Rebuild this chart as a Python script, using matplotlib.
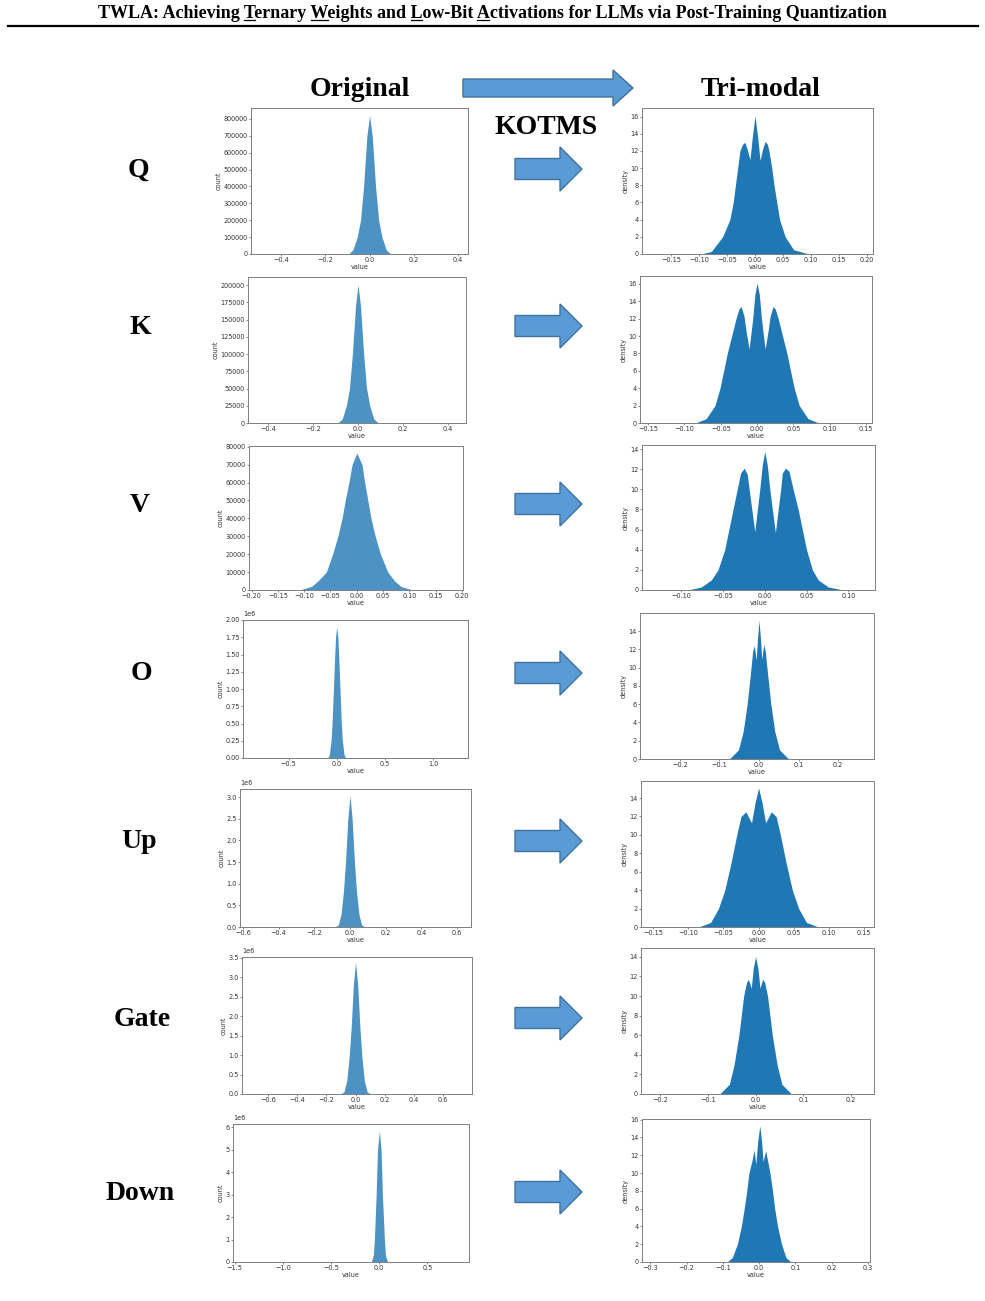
import numpy as np
import matplotlib
matplotlib.use("Agg")
import matplotlib.pyplot as plt
from matplotlib.patches import Polygon

W, H = 985, 1301

plt.rcParams['xtick.labelsize'] = 4.7
plt.rcParams['ytick.labelsize'] = 4.7

# row names
rows = ["Q", "K", "V", "O", "Up", "Gate", "Down"]

# ---- original weight histograms (count) : outline points
q_orig_x = [-0.095, -0.075, -0.056, -0.041, -0.027, -0.012, 0.0, 0.012, 0.027, 0.041, 0.056, 0.075, 0.095]
q_orig_y = [0, 25000, 100000, 200000, 400000, 700000, 820000, 700000, 400000, 200000, 100000, 25000, 0]

k_orig_x = [-0.09, -0.07, -0.052, -0.038, -0.025, -0.011, 0.0, 0.011, 0.025, 0.038, 0.052, 0.07, 0.09]
k_orig_y = [0, 6000, 25000, 50000, 100000, 170000, 200000, 170000, 100000, 50000, 25000, 6000, 0]

v_orig_x = [-0.109, -0.086, -0.074, -0.058, -0.046, -0.036, -0.028, -0.022, -0.015, -0.009, 0.0,
            0.010, 0.015, 0.021, 0.027, 0.035, 0.045, 0.059, 0.072, 0.084, 0.106]
v_orig_y = [0, 2000, 5000, 10000, 20000, 30000, 40000, 50000, 60000, 70000, 76500,
            70000, 60000, 50000, 40000, 30000, 20000, 10000, 5000, 2000, 0]

o_orig_x = [-0.093, -0.076, -0.059, -0.048, -0.034, -0.02, -0.012, 0.0, 0.012, 0.02, 0.034, 0.048, 0.059, 0.076, 0.093]
o_orig_y = [0, 0.05e6, 0.25e6, 0.5e6, 1.0e6, 1.5e6, 1.75e6, 1.9e6, 1.75e6, 1.5e6, 1.0e6, 0.5e6, 0.25e6, 0.05e6, 0]

up_orig_x = [-0.085, -0.065, -0.05, -0.037, -0.025, -0.012, 0.0, 0.012, 0.025, 0.037, 0.05, 0.065, 0.085]
up_orig_y = [0, 0.05e6, 0.3e6, 0.8e6, 1.5e6, 2.5e6, 3.03e6, 2.5e6, 1.5e6, 0.8e6, 0.3e6, 0.05e6, 0]

gate_orig_x = [-0.105, -0.08, -0.06, -0.045, -0.03, -0.015, 0.0, 0.015, 0.03, 0.045, 0.06, 0.08, 0.105]
gate_orig_y = [0, 0.05e6, 0.35e6, 0.9e6, 1.7e6, 2.8e6, 3.38e6, 2.8e6, 1.7e6, 0.9e6, 0.35e6, 0.05e6, 0]

down_orig_x = [-0.082, -0.06, -0.049, -0.031, -0.017, 0.003, 0.02, 0.034, 0.055, 0.065, 0.088]
down_orig_y = [0, 0.3e6, 1.0e6, 3.0e6, 5.0e6, 5.85e6, 5.0e6, 3.0e6, 1.0e6, 0.3e6, 0]

# ---- tri-modal histograms (density)
q_tri_x = [-0.096, -0.078, -0.058, -0.045, -0.039, -0.035, -0.031, -0.027, -0.022, -0.018, -0.014, -0.009,
           -0.005, 0.0, 0.005, 0.009, 0.014, 0.018, 0.022, 0.025, 0.030, 0.034, 0.039, 0.044, 0.054, 0.069, 0.096]
q_tri_y = [0, 0.3, 2, 4, 6, 8, 10, 12, 12.8, 13.0, 12.2, 11.0,
           13.5, 16.1, 13.5, 10.9, 12.3, 13.1, 12.8, 12, 10, 8, 6, 4, 2, 0.5, 0]

k_tri_x = [-0.085, -0.07, -0.058, -0.051, -0.041, -0.029, -0.025, -0.022, -0.018, -0.015, -0.011, -0.006,
           -0.003, 0.0, 0.003, 0.006, 0.011, 0.015, 0.018, 0.022, 0.025, 0.029, 0.041, 0.051, 0.058, 0.07, 0.085]
k_tri_y = [0, 0.5, 2, 4, 8, 12, 13.1, 13.4, 12.3, 10.5, 8.5, 12,
           14.8, 16.1, 14.8, 12, 8.5, 10.5, 12.3, 13.4, 13.1, 12, 8, 4, 2, 0.5, 0]

v_tri_x = [-0.092, -0.076, -0.064, -0.056, -0.048, -0.043, -0.038, -0.033, -0.029, -0.0247, -0.021, -0.0187,
           -0.012, -0.006, -0.003, 0.0, 0.003, 0.006, 0.0127, 0.019, 0.021, 0.0247, 0.029, 0.034, 0.040,
           0.045, 0.050, 0.057, 0.064, 0.076, 0.094]
v_tri_y = [0, 0.3, 1, 2, 4, 6, 8, 10, 11.6, 12.1, 11.5, 10,
           5.8, 10, 12.4, 13.75, 12.4, 10, 5.7, 10, 11.6, 12.1, 11.8, 10, 8,
           6, 4, 2, 1, 0.3, 0]

o_tri_x = [-0.075, -0.052, -0.04, -0.03, -0.02, -0.016, -0.012, -0.007, -0.004, 0.0, 0.004, 0.007,
           0.012, 0.016, 0.02, 0.03, 0.04, 0.052, 0.075]
o_tri_y = [0, 1, 3, 6, 10, 11.8, 12.4, 10.8, 13, 15.2, 13, 10.9,
           12.5, 11.8, 10, 6, 3, 1, 0]

up_tri_x = [-0.085, -0.068, -0.057, -0.048, -0.039, -0.031, -0.025, -0.018, -0.010, -0.005, 0.0, 0.005,
            0.010, 0.018, 0.025, 0.031, 0.039, 0.048, 0.057, 0.068, 0.085]
up_tri_y = [0, 0.5, 2, 4, 7, 10, 12, 12.5, 11.3, 13.5, 15.1, 13.5,
            11.3, 12.5, 12, 10, 7, 4, 2, 0.5, 0]

gate_tri_x = [-0.075, -0.055, -0.045, -0.035, -0.025, -0.019, -0.015, -0.009, -0.005, 0.0, 0.005, 0.009,
              0.015, 0.019, 0.025, 0.035, 0.045, 0.055, 0.075]
gate_tri_y = [0, 1, 3, 6, 10, 11.4, 11.7, 10.8, 12.8, 14.0, 12.8, 10.8,
              11.7, 11.4, 10, 6, 3, 1, 0]

down_tri_x = [-0.088, -0.074, -0.060, -0.049, -0.041, -0.034, -0.028, -0.019, -0.014, -0.009, -0.004, 0.002,
              0.007, 0.011, 0.018, 0.023, 0.030, 0.037, 0.043, 0.051, 0.062, 0.074, 0.088]
down_tri_y = [0, 0.5, 2, 4, 6, 8, 10, 11.5, 12.6, 11.0, 13.5, 15.3,
              13.5, 11.3, 12.5, 11.5, 10, 8, 6, 4, 2, 0.5, 0]

orig_x = [q_orig_x, k_orig_x, v_orig_x, o_orig_x, up_orig_x, gate_orig_x, down_orig_x]
orig_y = [q_orig_y, k_orig_y, v_orig_y, o_orig_y, up_orig_y, gate_orig_y, down_orig_y]
tri_x = [q_tri_x, k_tri_x, v_tri_x, o_tri_x, up_tri_x, gate_tri_x, down_tri_x]
tri_y = [q_tri_y, k_tri_y, v_tri_y, o_tri_y, up_tri_y, gate_tri_y, down_tri_y]

# axis ranges / ticks
orig_xlim = [(-0.536, 0.445), (-0.489, 0.48), (-0.205, 0.202), (-0.972, 1.362),
             (-0.617, 0.679), (-0.78, 0.80), (-1.517, 0.933)]
orig_ytop = [865000, 211600, 80400, 2.0e6, 3.185e6, 3.52e6, 6.15e6]
orig_xticks = [[-0.4, -0.2, 0.0, 0.2, 0.4], [-0.4, -0.2, 0.0, 0.2, 0.4],
               [-0.2, -0.15, -0.1, -0.05, 0.0, 0.05, 0.1, 0.15, 0.2], [-0.5, 0.0, 0.5, 1.0],
               [-0.6, -0.4, -0.2, 0.0, 0.2, 0.4, 0.6], [-0.6, -0.4, -0.2, 0.0, 0.2, 0.4, 0.6],
               [-1.5, -1.0, -0.5, 0.0, 0.5]]
orig_ystep = [100000, 25000, 10000, 0.25e6, 0.5e6, 0.5e6, 1e6]

tri_xlim = [(-0.202, 0.211), (-0.161, 0.158), (-0.147, 0.132), (-0.301, 0.291),
            (-0.167, 0.164), (-0.240, 0.248), (-0.323, 0.306)]
tri_ytop = [17.0, 16.9, 14.4, 15.97, 15.85, 14.9, 16.07]
tri_xticks = [[-0.15, -0.1, -0.05, 0.0, 0.05, 0.1, 0.15, 0.2],
              [-0.15, -0.1, -0.05, 0.0, 0.05, 0.1, 0.15],
              [-0.1, -0.05, 0.0, 0.05, 0.1],
              [-0.2, -0.1, 0.0, 0.1, 0.2],
              [-0.15, -0.1, -0.05, 0.0, 0.05, 0.1, 0.15],
              [-0.2, -0.1, 0.0, 0.1, 0.2],
              [-0.3, -0.2, -0.1, 0.0, 0.1, 0.2, 0.3]]

# panel frames in pixels (left, right, top, bottom)
orig_box = [(251, 468, 108, 254), (248, 466, 277, 423), (249, 463, 446, 590), (243, 468, 620, 758),
            (240, 471, 789, 927), (242, 472, 957, 1094), (233, 469, 1124, 1262)]
tri_box = [(642, 873, 108, 254), (640, 872, 276, 423), (642, 875, 445, 590), (640, 874, 613, 759),
           (641, 874, 781, 927), (641, 874, 948, 1094), (642, 870, 1119, 1262)]
row_y = [169, 326, 504, 673, 841, 1018, 1192]
label_x = [138, 140, 140, 141, 139, 142, 140]

fig = plt.figure(figsize=(W / 100, H / 100), dpi=100)


def px_axes(box):
    l, r, t, b = box
    return fig.add_axes([l / W, 1 - b / H, (r - l) / W, (b - t) / H])


def style(ax, ylab):
    for s in ax.spines.values():
        s.set_color('#808080')
        s.set_linewidth(0.7)
    ax.tick_params(length=1.5, width=0.4, pad=1, colors='#333333')
    ax.set_xlabel("value", fontsize=4.7, labelpad=0.5, color='#333333')
    ax.set_ylabel(ylab, fontsize=4.7, labelpad=1, color='#333333')
    ax.yaxis.get_offset_text().set_fontsize(4.7)


for i in range(len(rows)):
    ax = px_axes(orig_box[i])
    ax.fill_between(orig_x[i], orig_y[i], color='#4c92c3', lw=0)
    ax.set_xticks(orig_xticks[i])
    ax.set_yticks(np.arange(0, orig_ytop[i] + 1, orig_ystep[i]))
    ax.set_xlim(orig_xlim[i])
    ax.set_ylim(0, orig_ytop[i])
    style(ax, "count")

    ax2 = px_axes(tri_box[i])
    ax2.fill_between(tri_x[i], tri_y[i], color='#1f77b4', lw=0)
    ax2.set_xticks(tri_xticks[i])
    ax2.set_yticks(np.arange(0, tri_ytop[i], 2))
    ax2.set_xlim(tri_xlim[i])
    ax2.set_ylim(0, tri_ytop[i])
    style(ax2, "density")

# overlay in pixel coordinates for text and arrows
ov = fig.add_axes([0, 0, 1, 1])
ov.set_xlim(0, W)
ov.set_ylim(H, 0)
ov.axis('off')
ov.patch.set_alpha(0)

serif = dict(family='Liberation Serif', weight='bold', color='black')


def arrow(x0, x1, yc, body, head, head_len):
    hx = x1 - head_len
    pts = [(x0, yc - body / 2), (hx, yc - body / 2), (hx, yc - head / 2), (x1, yc),
           (hx, yc + head / 2), (hx, yc + body / 2), (x0, yc + body / 2)]
    ov.add_patch(Polygon(pts, closed=True, facecolor='#5B9BD5', edgecolor='#41719C', lw=1))


arrow(463, 633, 88, 18, 36, 20)
for i, name in enumerate(rows):
    arrow(515, 582, row_y[i], 21, 44, 22)
    ov.text(label_x[i], row_y[i] + 1, name, ha='center', va='center', fontsize=20, **serif)

ov.text(360, 89, "Original", ha='center', va='center', fontsize=20, **serif)
ov.text(761, 89, "Tri-modal", ha='center', va='center', fontsize=20, **serif)
ov.text(546, 128, "KOTMS", ha='center', va='center', fontsize=20, **serif)

# header
title = "TWLA: Achieving Ternary Weights and Low-Bit Activations for LLMs via Post-Training Quantization"
t = ov.text(W / 2, 13, title, ha='center', va='center', fontsize=12, **serif)
fig.canvas.draw()
rend = fig.canvas.get_renderer()
wpx = t.get_window_extent(rend).width
t.set_fontsize(12 * 787 / wpx)
fig.canvas.draw()
bb = t.get_window_extent(rend)


def text_w(s):
    tmp = ov.text(0, 0, s, fontsize=t.get_fontsize(), **serif)
    w = tmp.get_window_extent(rend).width
    tmp.remove()
    return w


for word in ["Ternary", "Weights", "Low", "Activations"]:
    k = title.index(word)
    right = bb.x0 + text_w(title[:k + 1])
    left = right - text_w(title[k])
    ov.plot([left + 0.5, right - 0.5], [20, 20], color='black', lw=0.9)

ov.plot([8, 978], [26, 26], color='black', lw=1.6)

fig.savefig("out.png", dpi=100)
